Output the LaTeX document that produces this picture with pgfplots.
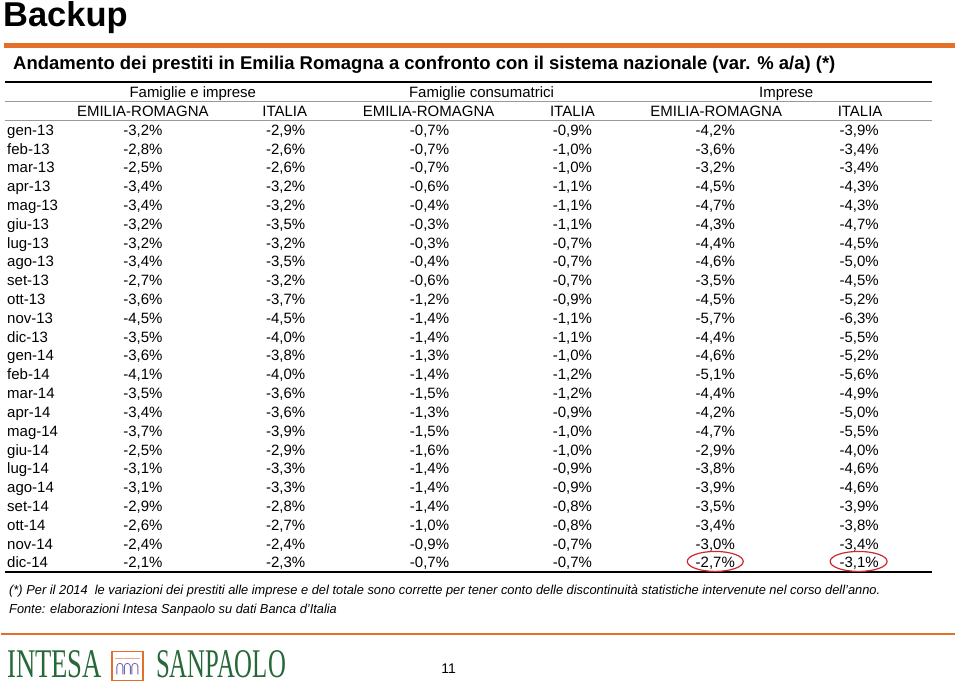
\documentclass[border=0pt]{standalone}
\usepackage{pgfplots}
\pgfplotsset{compat=1.18}
\usepackage{pgfplotstable}
\usepackage{graphicx}
\usepackage{fontspec}
\setmainfont{Liberation Sans}
\newfontfamily\logofont{Liberation Serif}
\definecolor{isorange}{RGB}{226,112,42}
\definecolor{isgreen}{RGB}{38,104,56}
\definecolor{isred}{RGB}{205,40,45}
\definecolor{isarch}{RGB}{110,100,170}
\newcommand\tabfont{\fontsize{15}{18}\selectfont}

\pgfplotstableread{
date   er1  it1  er2  it2  er3  it3
gen-13 -3.2 -2.9 -0.7 -0.9 -4.2 -3.9
feb-13 -2.8 -2.6 -0.7 -1.0 -3.6 -3.4
mar-13 -2.5 -2.6 -0.7 -1.0 -3.2 -3.4
apr-13 -3.4 -3.2 -0.6 -1.1 -4.5 -4.3
mag-13 -3.4 -3.2 -0.4 -1.1 -4.7 -4.3
giu-13 -3.2 -3.5 -0.3 -1.1 -4.3 -4.7
lug-13 -3.2 -3.2 -0.3 -0.7 -4.4 -4.5
ago-13 -3.4 -3.5 -0.4 -0.7 -4.6 -5.0
set-13 -2.7 -3.2 -0.6 -0.7 -3.5 -4.5
ott-13 -3.6 -3.7 -1.2 -0.9 -4.5 -5.2
nov-13 -4.5 -4.5 -1.4 -1.1 -5.7 -6.3
dic-13 -3.5 -4.0 -1.4 -1.1 -4.4 -5.5
gen-14 -3.6 -3.8 -1.3 -1.0 -4.6 -5.2
feb-14 -4.1 -4.0 -1.4 -1.2 -5.1 -5.6
mar-14 -3.5 -3.6 -1.5 -1.2 -4.4 -4.9
apr-14 -3.4 -3.6 -1.3 -0.9 -4.2 -5.0
mag-14 -3.7 -3.9 -1.5 -1.0 -4.7 -5.5
giu-14 -2.5 -2.9 -1.6 -1.0 -2.9 -4.0
lug-14 -3.1 -3.3 -1.4 -0.9 -3.8 -4.6
ago-14 -3.1 -3.3 -1.4 -0.9 -3.9 -4.6
set-14 -2.9 -2.8 -1.4 -0.8 -3.5 -3.9
ott-14 -2.6 -2.7 -1.0 -0.8 -3.4 -3.8
nov-14 -2.4 -2.4 -0.9 -0.7 -3.0 -3.4
dic-14 -2.1 -2.3 -0.7 -0.7 -2.7 -3.1
}\datatable

\pgfplotsset{
  valcol/.style={draw=none, mark=none, point meta=explicit,
    nodes near coords={\pgfmathprintnumber[use comma, fixed, fixed zerofill, precision=1, assume math mode=true]{\pgfplotspointmeta}\%},
    nodes near coords align={anchor=base},
    every node near coord/.append style={font=\tabfont, inner sep=0pt, anchor=base, text=black}},
}

\begin{document}
\begin{tikzpicture}
\begin{axis}[scale only axis, width=960pt, height=683pt,
  xmin=0, xmax=960, ymin=0, ymax=683, y dir=reverse,
  hide axis, clip=false,
  /pgf/number format/assume math mode=true]
\path (axis cs:0,0) rectangle (axis cs:960,683);

% title and rules
\node[anchor=base west, inner sep=0pt, font=\bfseries\fontsize{34.5}{35}\selectfont] at (axis cs:2,27) {Backup};
\draw[isorange, line width=5pt] (axis cs:3,46) -- (axis cs:955,46);
\node[anchor=base west, inner sep=0pt, font=\bfseries\fontsize{18.5}{21}\selectfont] at (axis cs:12,69.5) {Andamento dei prestiti in Emilia Romagna a confronto con il sistema nazionale (var. \% a/a) (*)};

% table rules
\draw[black, line width=2pt] (axis cs:4,82.5) -- (axis cs:932,82.5);
\draw[gray!80, line width=1pt] (axis cs:4,101.5) -- (axis cs:932,101.5);
\draw[gray!80, line width=1pt] (axis cs:4,120.5) -- (axis cs:932,120.5);
\draw[black, line width=2pt] (axis cs:4,572.5) -- (axis cs:932,572.5);

% headers
\node[font=\tabfont, inner sep=0pt, anchor=base] at (axis cs:192,97.4) {Famiglie e imprese};
\node[font=\tabfont, inner sep=0pt, anchor=base] at (axis cs:481,97.4) {Famiglie consumatrici};
\node[font=\tabfont, inner sep=0pt, anchor=base] at (axis cs:786,97.4) {Imprese};
\node[font=\tabfont, inner sep=0pt, anchor=base] at (axis cs:142,116.4) {EMILIA-ROMAGNA};
\node[font=\tabfont, inner sep=0pt, anchor=base] at (axis cs:284,116.4) {ITALIA};
\node[font=\tabfont, inner sep=0pt, anchor=base] at (axis cs:428,116.4) {EMILIA-ROMAGNA};
\node[font=\tabfont, inner sep=0pt, anchor=base] at (axis cs:572,116.4) {ITALIA};
\node[font=\tabfont, inner sep=0pt, anchor=base] at (axis cs:716,116.4) {EMILIA-ROMAGNA};
\node[font=\tabfont, inner sep=0pt, anchor=base] at (axis cs:860,116.4) {ITALIA};

% row labels
\addplot[draw=none, mark=none, point meta=explicit symbolic, nodes near coords,
  nodes near coords align={anchor=base west},
  every node near coord/.append style={font=\tabfont, inner sep=0pt, anchor=base west, text=black}]
  table[x expr=6, y expr={135.4+18.83*\coordindex}, meta=date] {\datatable};

% values
\addplot[valcol] table[x expr=142, y expr={135.4+18.83*\coordindex}, meta=er1] {\datatable};
\addplot[valcol] table[x expr=285, y expr={135.4+18.83*\coordindex}, meta=it1] {\datatable};
\addplot[valcol] table[x expr=429, y expr={135.4+18.83*\coordindex}, meta=er2] {\datatable};
\addplot[valcol] table[x expr=572, y expr={135.4+18.83*\coordindex}, meta=it2] {\datatable};
\addplot[valcol] table[x expr=715, y expr={135.4+18.83*\coordindex}, meta=er3] {\datatable};
\addplot[valcol] table[x expr=859, y expr={135.4+18.83*\coordindex}, meta=it3] {\datatable};

% highlight ellipses
\draw[isred, line width=1.2pt] (axis cs:715,562) ellipse [x radius=28pt, y radius=10pt];
\draw[isred, line width=1.2pt] (axis cs:858.5,562) ellipse [x radius=28.5pt, y radius=10pt];

% notes
\node[anchor=base west, inner sep=0pt, font=\itshape\fontsize{13}{15}\selectfont] at (axis cs:8,595)
  {\resizebox{872pt}{\height}{(*) Per il 2014\ \ le variazioni dei prestiti alle imprese e del totale sono corrette per tener conto delle discontinuità statistiche intervenute nel corso dell’anno.}};
\node[anchor=base west, inner sep=0pt, font=\itshape\fontsize{13}{15}\selectfont] at (axis cs:8,614)
  {\resizebox{328pt}{\height}{Fonte: elaborazioni Intesa Sanpaolo su dati Banca d’Italia}};

% footer
\draw[isorange, line width=2pt] (axis cs:0,635) -- (axis cs:955,635);
\node[anchor=base west, inner sep=0pt, text=isgreen, font=\logofont] at (axis cs:6,678.5)
  {\resizebox{95pt}{27pt}{INTESA}};
\node[anchor=base west, inner sep=0pt, text=isgreen, font=\logofont] at (axis cs:155,678.5)
  {\resizebox{130pt}{27pt}{SANPAOLO}};
\draw[isorange, line width=1.5pt] (axis cs:111,652) rectangle (axis cs:142,681);
\draw[isorange!60, line width=0.8pt] (axis cs:114,659) -- (axis cs:139,659);
\draw[isarch, line width=0.8pt] (axis cs:116,675) -- (axis cs:116,667) arc[start angle=180, end angle=0, radius=3pt] -- (axis cs:122,675);
\draw[isarch, line width=0.8pt] (axis cs:123.5,675) -- (axis cs:123.5,667) arc[start angle=180, end angle=0, radius=3pt] -- (axis cs:129.5,675);
\draw[isarch, line width=0.8pt] (axis cs:131,675) -- (axis cs:131,667) arc[start angle=180, end angle=0, radius=3pt] -- (axis cs:137,675);
\node[anchor=base, inner sep=0pt, font=\fontsize{14}{16}\selectfont] at (axis cs:448,674) {11};
\end{axis}
\end{tikzpicture}
\end{document}
